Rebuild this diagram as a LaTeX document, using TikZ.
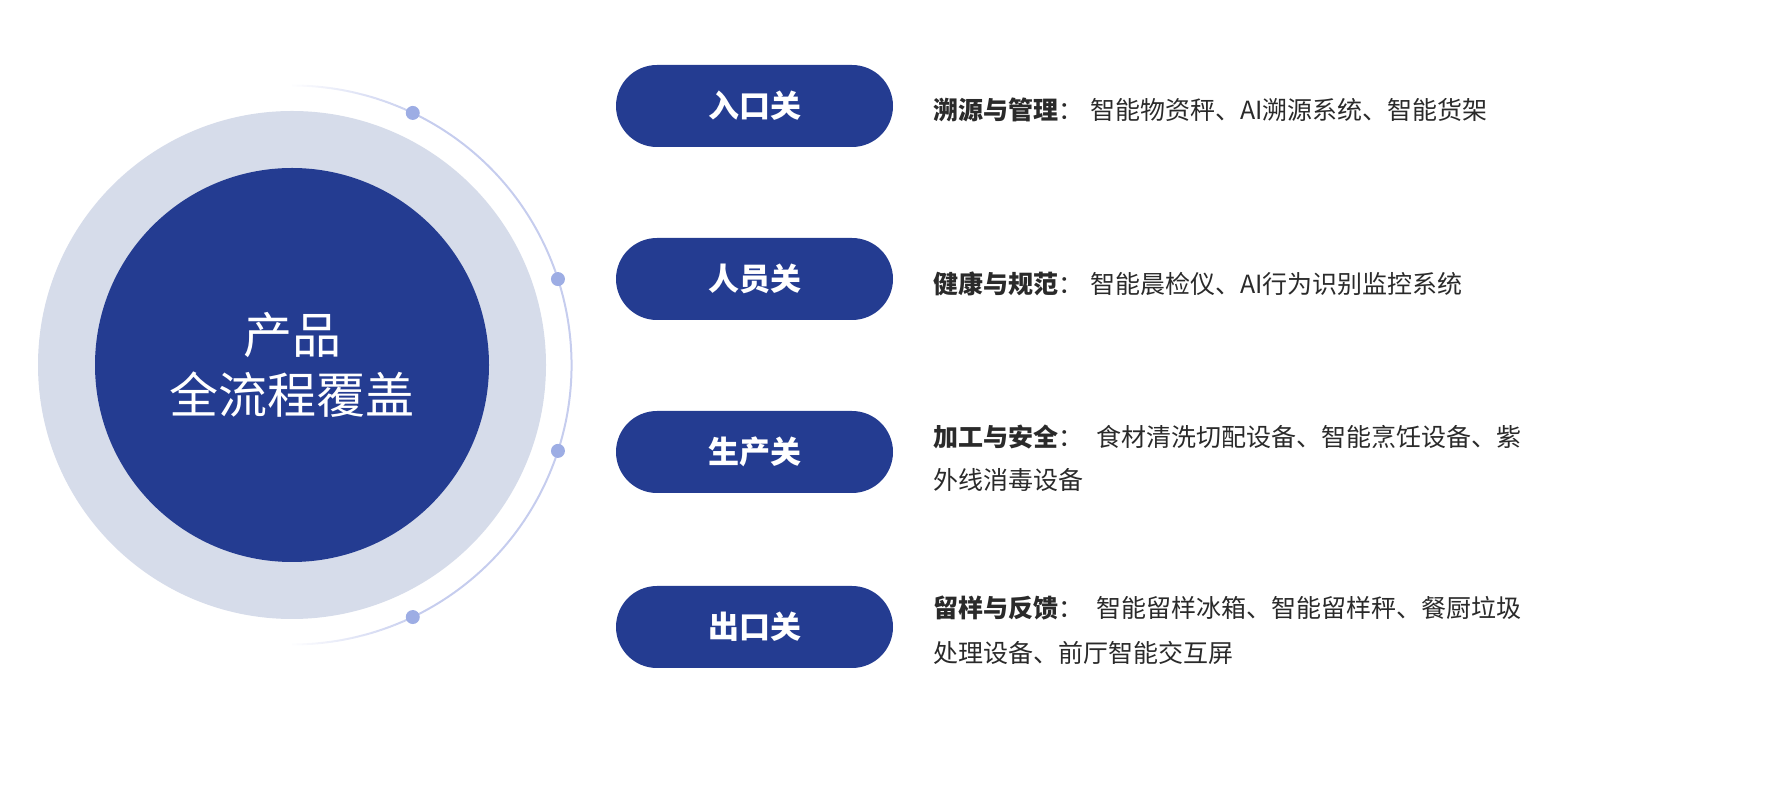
\documentclass[tikz,border=0pt]{standalone}
\usepackage{fontspec}
\newfontfamily\cjk{Noto Sans CJK SC}
\definecolor{navy}{HTML}{243C91}
\definecolor{ring}{HTML}{D6DCEA}
\definecolor{arcc}{HTML}{C6CDEE}
\definecolor{dotc}{HTML}{9DADE4}
\definecolor{txt}{HTML}{2A2A2A}
\begin{document}
\begin{tikzpicture}[x=1pt,y=1pt,
  pill/.style={fill=navy, rounded corners=41pt, minimum width=277pt, minimum height=82pt,
    text=white, inner sep=0pt, font=\cjk\bfseries\fontsize{31}{36}\selectfont,
    text height=27pt, text depth=4pt},
  desc/.style={anchor=west, inner sep=0pt, text=txt, font=\cjk\fontsize{25}{30}\selectfont,
    text height=22pt, text depth=3pt},
  ctext/.style={text=white, inner sep=0pt, font=\cjk\fontsize{49}{56}\selectfont,
    text height=43pt, text depth=6pt},
  dotn/.style={circle, fill=dotc, minimum size=14pt, inner sep=0pt},
  arcline/.style={draw=arcc, line width=2pt}]
\useasboundingbox (0,0) rectangle (1769,808);
\coordinate (ctr) at (292,443);
% arc with faded ends
\foreach \i in {0,...,24}{
  \pgfmathsetmacro\aa{90-\i*1.024}
  \pgfmathsetmacro\bb{-90+\i*1.024}
  \pgfmathsetmacro\op{(\i+1)/26}
  \draw[arcline, draw opacity=\op] (ctr) ++(\aa:279.5) arc[start angle=\aa, delta angle=-1.024, radius=279.5];
  \draw[arcline, draw opacity=\op] (ctr) ++(\bb:279.5) arc[start angle=\bb, delta angle=1.024, radius=279.5];
}
\draw[arcline] (ctr) ++(64.4:279.5) arc[start angle=64.4, end angle=-64.4, radius=279.5];
% circles
\node[circle, fill=ring, minimum size=508pt, inner sep=0pt] (outer) at (ctr) {};
\node[circle, fill=navy, minimum size=394pt, inner sep=0pt] (inner) at (ctr) {};
\node[ctext] (c1) at (292,473) {产品};
\node[ctext] (c2) at (292,413) {全流程覆盖};
% dots
\node[dotn] (d1) at ([shift={(64.4:279.5)}]ctr) {};
\node[dotn] (d2) at ([shift={(17.9:279.5)}]ctr) {};
\node[dotn] (d3) at ([shift={(-17.9:279.5)}]ctr) {};
\node[dotn] (d4) at ([shift={(-64.4:279.5)}]ctr) {};
% pills
\node[pill] (p1) at (754.5,702) {入口关};
\node[pill] (p2) at (754.5,529) {人员关};
\node[pill] (p3) at (754.5,356) {生产关};
\node[pill] (p4) at (754.5,181) {出口关};
% descriptions
\node[desc] (t1) at (933,698) {{\bfseries 溯源与管理}：\hspace{7pt}智能物资秤、AI溯源系统、智能货架};
\node[desc] (t2) at (933,524) {{\bfseries 健康与规范}：\hspace{7pt}智能晨检仪、AI行为识别监控系统};
\node[desc] (t3a) at (933,371) {{\bfseries 加工与安全}：\hspace{13pt}食材清洗切配设备、智能烹饪设备、紫};
\node[desc] (t3b) at (933,328) {外线消毒设备};
\node[desc] (t4a) at (933,200) {{\bfseries 留样与反馈}：\hspace{13pt}智能留样冰箱、智能留样秤、餐厨垃圾};
\node[desc] (t4b) at (933,155) {处理设备、前厅智能交互屏};
\end{tikzpicture}
\end{document}
